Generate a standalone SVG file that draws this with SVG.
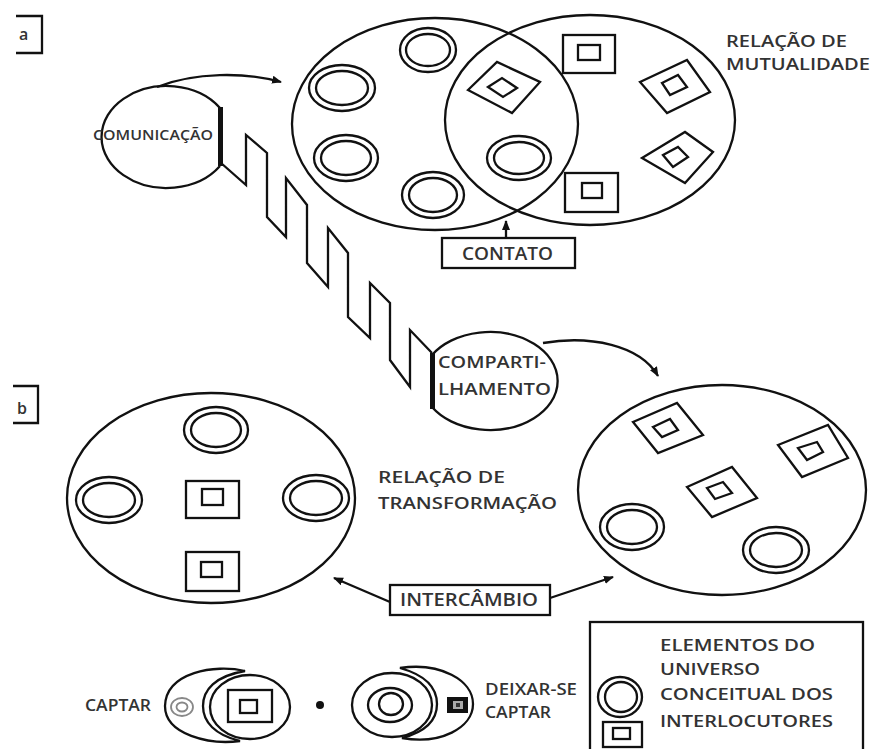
<svg xmlns="http://www.w3.org/2000/svg" width="873" height="749" viewBox="0 0 873 749">
<style>
.ln{fill:none;stroke:#111;stroke-width:2.3}
.t{font-family:"Open Sans","Liberation Sans",sans-serif;font-weight:600;fill:#333}
.bar{fill:#111}
</style>
<defs>
<marker id="ah" markerUnits="userSpaceOnUse" markerWidth="10" markerHeight="10" refX="9" refY="4" orient="auto">
<path d="M0,0 L10,4 L0,8 Z" fill="#111"/>
</marker>
</defs>
<rect width="873" height="749" fill="#fff"/>

<g id="label-a">
<path class="ln" d="M16,16 H42 V53 H16"/>
<text class="t" x="19" y="40" font-size="16">a</text>
</g>
<g id="label-b">
<path class="ln" d="M13,386 H38 V423 H13"/>
<text class="t" x="17" y="414" font-size="16">b</text>
</g>

<g id="comunicacao">
<path class="ln" d="M220,108 A65,51 0 1 0 220,166"/>
<rect class="bar" x="218" y="107" width="5" height="59"/>
<text class="t" x="93" y="140" font-size="14" textLength="120" lengthAdjust="spacingAndGlyphs">COMUNICAÇÃO</text>
</g>

<g id="compartilhamento">
<path class="ln" d="M432,355 A68,49 0 1 1 432,407"/>
<rect class="bar" x="430" y="353" width="5" height="56"/>
<text class="t" x="438" y="368" font-size="17" textLength="108" lengthAdjust="spacingAndGlyphs">COMPARTI-</text>
<text class="t" x="438" y="395" font-size="17" textLength="113" lengthAdjust="spacingAndGlyphs">LHAMENTO</text>
</g>

<g id="zigzag">
<polyline class="ln" stroke-linejoin="miter" points="221,163 246,185 246,135 267,153 267,217 286,237 286,178 307,205 307,263 328,287 328,228 348,253 348,317 370,338 370,283 390,303 390,360 410,387 410,330 432,353"/>
</g>

<g id="circle-left-a">
<ellipse class="ln" cx="435" cy="124" rx="143" ry="106"/>
<ellipse class="ln" cx="428" cy="50" rx="28" ry="22"/><ellipse class="ln" cx="428" cy="50" rx="22" ry="16"/>
<ellipse class="ln" cx="342" cy="88" rx="33" ry="23"/><ellipse class="ln" cx="342" cy="88" rx="26" ry="17"/>
<ellipse class="ln" cx="346" cy="158" rx="32" ry="23"/><ellipse class="ln" cx="346" cy="158" rx="25" ry="17"/>
<ellipse class="ln" cx="433" cy="195" rx="31" ry="23"/><ellipse class="ln" cx="433" cy="195" rx="24" ry="17"/>
<ellipse class="ln" cx="519" cy="158" rx="32" ry="22"/><ellipse class="ln" cx="519" cy="158" rx="25" ry="16"/>
</g>

<g id="circle-right-a">
<ellipse class="ln" cx="590" cy="120" rx="145" ry="105"/>
<polygon class="ln" points="468,90 497,62 540,82 512,113"/>
<polygon class="ln" points="488,87 502,78 517,88 503,97"/>
<rect class="ln" x="563" y="35" width="52" height="38"/>
<rect class="ln" x="578" y="45" width="22" height="15"/>
<polygon class="ln" points="640,82 687,60 710,92 667,113"/>
<polygon class="ln" points="662,83 678,75 687,87 670,95"/>
<polygon class="ln" points="642,158 685,132 713,152 685,183"/>
<polygon class="ln" points="663,155 678,147 688,157 673,167"/>
<rect class="ln" x="565" y="173" width="53" height="39"/>
<rect class="ln" x="582" y="183" width="20" height="15"/>
</g>

<g id="mutualidade">
<text class="t" x="726" y="47" font-size="17" textLength="121" lengthAdjust="spacingAndGlyphs">RELAÇÃO DE</text>
<text class="t" x="726" y="70" font-size="17" textLength="144" lengthAdjust="spacingAndGlyphs">MUTUALIDADE</text>
</g>

<g id="contato">
<rect class="ln" x="442" y="238" width="133" height="30"/>
<text class="t" x="462" y="260" font-size="18" textLength="91" lengthAdjust="spacingAndGlyphs">CONTATO</text>
</g>

<g id="circle-left-b">
<ellipse class="ln" cx="211" cy="498" rx="144" ry="105"/>
<ellipse class="ln" cx="216" cy="430" rx="32" ry="23"/><ellipse class="ln" cx="216" cy="430" rx="25" ry="17"/>
<ellipse class="ln" cx="109" cy="500" rx="33" ry="23"/><ellipse class="ln" cx="109" cy="500" rx="26" ry="17"/>
<ellipse class="ln" cx="316" cy="498" rx="33" ry="23"/><ellipse class="ln" cx="316" cy="498" rx="26" ry="17"/>
<rect class="ln" x="186" y="481" width="53" height="37"/>
<rect class="ln" x="202" y="489" width="21" height="16"/>
<rect class="ln" x="186" y="552" width="53" height="39"/>
<rect class="ln" x="201" y="562" width="21" height="15"/>
</g>

<g id="transformacao">
<text class="t" x="378" y="483" font-size="17" textLength="127" lengthAdjust="spacingAndGlyphs">RELAÇÃO DE</text>
<text class="t" x="378" y="509" font-size="17" textLength="179" lengthAdjust="spacingAndGlyphs">TRANSFORMAÇÃO</text>
</g>

<g id="circle-right-b">
<ellipse class="ln" cx="722" cy="490" rx="144" ry="105"/>
<polygon class="ln" points="633,422 677,403 703,435 658,453"/>
<polygon class="ln" points="653,427 670,419 678,430 662,437"/>
<polygon class="ln" points="778,445 828,425 848,458 802,477"/>
<polygon class="ln" points="798,448 817,442 823,452 807,460"/>
<polygon class="ln" points="687,487 732,467 757,498 712,517"/>
<polygon class="ln" points="707,488 723,482 732,493 715,499"/>
<ellipse class="ln" cx="632" cy="527" rx="32" ry="23"/><ellipse class="ln" cx="632" cy="527" rx="25" ry="17"/>
<ellipse class="ln" cx="776" cy="550" rx="33" ry="23"/><ellipse class="ln" cx="776" cy="550" rx="26" ry="17"/>
</g>

<g id="intercambio">
<rect class="ln" x="390" y="585" width="160" height="30"/>
<text class="t" x="400" y="606" font-size="18" textLength="138" lengthAdjust="spacingAndGlyphs">INTERCÂMBIO</text>
</g>

<g id="legend">
<rect class="ln" x="590" y="622" width="273" height="140"/>
<ellipse class="ln" cx="620" cy="697" rx="22" ry="20"/>
<ellipse class="ln" cx="621" cy="697" rx="16" ry="15"/>
<rect class="ln" x="603" y="722" width="39" height="25"/>
<rect class="ln" x="613" y="728" width="17" height="11"/>
<text class="t" x="660" y="651" font-size="17" textLength="155" lengthAdjust="spacingAndGlyphs">ELEMENTOS DO</text>
<text class="t" x="660" y="675" font-size="17" textLength="100" lengthAdjust="spacingAndGlyphs">UNIVERSO</text>
<text class="t" x="660" y="700" font-size="17" textLength="173" lengthAdjust="spacingAndGlyphs">CONCEITUAL DOS</text>
<text class="t" x="660" y="727" font-size="17" textLength="173" lengthAdjust="spacingAndGlyphs">INTERLOCUTORES</text>
</g>

<g id="captar">
<text class="t" x="85" y="711" font-size="16" textLength="66" lengthAdjust="spacingAndGlyphs">CAPTAR</text>
<path class="ln" d="M245,671 C215,664 166,672 165,706 C165,735 210,745 240,741 C215,735 203,722 203,706 C203,690 215,676 245,671 Z"/>
<ellipse cx="182" cy="707" rx="11" ry="9" fill="none" stroke="#888" stroke-width="1.8"/>
<ellipse cx="182" cy="707" rx="5.5" ry="4.5" fill="none" stroke="#888" stroke-width="1.8"/>
<ellipse class="ln" cx="250" cy="707" rx="40" ry="32"/>
<rect class="ln" x="228" y="690" width="44" height="32"/>
<rect class="ln" x="240" y="700" width="17" height="13"/>
</g>

<circle id="dot" cx="320" cy="705" r="4" fill="#111"/>

<g id="deixar-se-captar">
<ellipse class="ln" cx="392" cy="705" rx="40" ry="32"/>
<ellipse class="ln" cx="390" cy="705" rx="22" ry="17"/>
<ellipse class="ln" cx="391" cy="704" rx="12" ry="11"/>
<path class="ln" d="M400,668 C440,662 473,680 473,704 C473,728 440,745 402,738 C425,732 437,720 437,704 C437,688 425,675 400,668 Z"/>
<rect x="447" y="697" width="21" height="16" fill="#111"/>
<rect x="453" y="701" width="10" height="8" fill="#aaa"/>
<rect x="456" y="703" width="4" height="4" fill="#333"/>
<text class="t" x="485" y="695" font-size="16" textLength="92" lengthAdjust="spacingAndGlyphs">DEIXAR-SE</text>
<text class="t" x="485" y="718" font-size="16" textLength="66" lengthAdjust="spacingAndGlyphs">CAPTAR</text>
</g>

<g id="connectors">
<path class="ln" d="M157,87 C195,72 245,72 281,82" marker-end="url(#ah)"/>
<path class="ln" d="M506,238 L506,221" marker-end="url(#ah)"/>
<path class="ln" d="M543,343 C590,335 640,345 658,376" marker-end="url(#ah)"/>
<path class="ln" d="M390,602 L334,578" marker-end="url(#ah)"/>
<path class="ln" d="M550,598 L613,577" marker-end="url(#ah)"/>
</g>
</svg>
